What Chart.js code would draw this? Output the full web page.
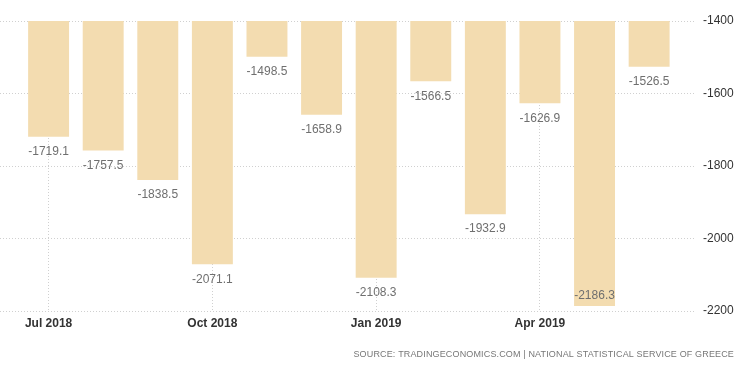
<!DOCTYPE html>
<html>
<head>
<meta charset="utf-8">
<script src="https://cdn.jsdelivr.net/npm/chart.js@4"></script>
<style>
  html, body { margin: 0; padding: 0; background: #fff; }
  #wrap { width: 750px; height: 373px; }
</style>
</head>
<body>
<div id="wrap"><canvas id="chart"></canvas></div>
<script>
// Monthly balance, Jul 2018 - Jun 2019
const months = ['Jul 2018', 'Aug 2018', 'Sep 2018', 'Oct 2018', 'Nov 2018', 'Dec 2018',
                'Jan 2019', 'Feb 2019', 'Mar 2019', 'Apr 2019', 'May 2019', 'Jun 2019'];
const values = [-1719.1, -1757.5, -1838.5, -2071.1, -1498.5, -1658.9,
                -2108.3, -1566.5, -1932.9, -1626.9, -2186.3, -1526.5];
const xTickIdx = [0, 3, 6, 9];
const yTicks = [-1400, -1600, -1800, -2000, -2200];

const FONT = "'Liberation Sans', Arial, sans-serif";

// value labels under each bar end
const valueLabels = {
    id: 'valueLabels',
    afterDatasetsDraw(chart) {
        const ctx = chart.ctx;
        const meta = chart.getDatasetMeta(0);
        const area = chart.chartArea;
        ctx.save();
        ctx.font = '12px ' + FONT;
        ctx.fillStyle = '#6f6f6f';
        ctx.textAlign = 'center';
        ctx.textBaseline = 'middle';
        meta.data.forEach((bar, i) => {
            let y = bar.y + 15;
            if (y > area.bottom - 6) y = bar.y - 10;
            ctx.fillText(values[i].toFixed(1), bar.x, y);
        });
        ctx.restore();
    }
};

// source line at the bottom right
const sourceText = {
    id: 'sourceText',
    afterDraw(chart) {
        const ctx = chart.ctx;
        ctx.save();
        ctx.font = '9px ' + FONT;
        ctx.fillStyle = '#777';
        ctx.textAlign = 'right';
        ctx.textBaseline = 'middle';
        ctx.letterSpacing = '0.15px';
        ctx.fillText('SOURCE: TRADINGECONOMICS.COM | NATIONAL STATISTICAL SERVICE OF GREECE', chart.width - 16, 355);
        ctx.restore();
    }
};

const ctx = document.getElementById('chart').getContext('2d');
new Chart(ctx, {
    type: 'bar',
    data: {
        datasets: [{
            data: values.map((v, i) => ({ x: i, y: v })),
            backgroundColor: '#f3dcb0',
            borderWidth: 0,
            barPercentage: 0.75,
            categoryPercentage: 1
        }]
    },
    options: {
        responsive: true,
        maintainAspectRatio: false,
        animation: false,
        layout: { padding: { top: 21, left: 0, right: 0, bottom: 0 } },
        plugins: {
            legend: { display: false },
            tooltip: { enabled: false }
        },
        scales: {
            x: {
                type: 'linear',
                offset: false,
                min: -0.89,
                max: 11.84,
                afterBuildTicks: axis => {
                    axis.ticks = xTickIdx.map(v => ({ value: v }));
                },
                afterFit: axis => { axis.height = 62; },
                ticks: {
                    callback: v => months[v],
                    color: '#333',
                    font: { family: FONT, size: 12, weight: 'bold' },
                    padding: 5,
                    maxRotation: 0,
                    autoSkip: false
                },
                grid: {
                    offset: false,
                    color: '#d0d0d0',
                    drawTicks: false
                },
                border: { display: false, dash: [1, 2] }
            },
            y: {
                position: 'right',
                min: -2200,
                max: -1400,
                afterBuildTicks: axis => {
                    axis.ticks = yTicks.map(v => ({ value: v }));
                },
                afterFit: axis => { axis.width = 55; },
                ticks: {
                    callback: v => String(v),
                    color: '#333',
                    font: { family: FONT, size: 12 },
                    padding: 8
                },
                grid: {
                    color: '#d0d0d0',
                    drawTicks: false
                },
                border: { display: false, dash: [1, 2] }
            }
        }
    },
    plugins: [valueLabels, sourceText]
});
</script>
</body>
</html>
